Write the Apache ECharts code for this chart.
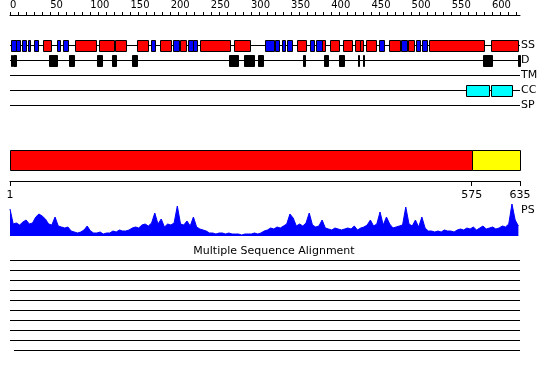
<!DOCTYPE html>
<html><head><meta charset="utf-8">
<script src="https://cdn.jsdelivr.net/npm/echarts@6/dist/echarts.min.js"></script>
<style>html,body{margin:0;padding:0;background:#fff}#c{width:550px;height:380px}</style>
</head><body><div id="c"></div>
<script>
// ---- data ----
const seqLength = 635;
const trackNames = ['SS', 'D', 'TM', 'CC', 'SP'];
// secondary structure: helices (red) and strands (blue), [start, end]
const helixSegments = [[41,51],[81,107],[111,129],[131,145],[158,172],[187,201],[212,219],[237,274],[279,299],[357,368],[389,392],[399,410],[414,426],[430,436],[436,440],[443,456],[472,485],[496,503],[522,590],[599,632]];
const strandSegments = [[1,7],[8,12],[15,20],[23,25],[30,35],[58,62],[66,72],[176,180],[203,210],[222,228],[228,233],[317,329],[330,335],[339,342],[345,351],[374,378],[381,388],[460,466],[487,494],[505,510],[513,519]];
// disorder
const disorderSegments = [[1,3],[4,7],[49,58],[74,80],[108,114],[127,132],[152,158],[273,284],[291,304],[309,315],[365,367],[391,396],[410,416],[433,435],[439,441],[589,600],[632,635]];
// coiled coil
const coiledCoilSegments = [[568,596],[599,625]];
const tmSegments = [];
const spSegments = [];
// domains
const domainStarts = [1, 575];
const domainEnds = [575, 635];
const domainBoundaries = [1, 575, 635];
// PS profile (one value per 4 residues, starting at residue 1)
const profileStep = 4;
const profileValues = [
 27,12,13,11,14,16,12,13,19,22,
 20,17,12,11,19,10,9,8,9,5,
 4,3,4,6,10,5,3,3,4,2,
 3,3,5,4,6,5,5,6,8,9,
 8,11,12,10,13,23,12,17,9,12,
 11,13,30,12,11,15,10,19,9,7,
 6,5,3,3,2,3,3,2,3,2,
 2,2,1,2,2,2,3,2,3,5,
 6,8,7,9,8,10,12,22,18,10,
 12,10,13,23,11,9,10,16,8,7,
 6,8,7,6,7,8,7,10,6,8,
 9,11,16,10,12,24,11,19,12,8,
 9,10,11,29,12,10,16,9,19,8,
 5,5,4,5,4,6,5,5,4,6,
 7,6,8,7,9,6,8,10,7,8,
 9,7,8,10,9,12,32,16,10
];
// multiple sequence alignment rows
const alignStarts = [1,1,1,1,1,1,1,1,1,6];
const alignEnds = [635,635,635,635,635,635,635,635,635,635];
const alignTitle = 'Multiple Sequence Alignment';

// ---- chart ----
const FONT = 'DejaVu Sans';
const chart = echarts.init(document.getElementById('c'), null, {renderer: 'canvas'});

function segData(list, row) { return list.map(s => [s[0], s[1], row]); }

function boxRender(params, api) {
  const s = api.value(0), e = api.value(1), row = api.value(2);
  const p0 = api.coord([s, row]), p1 = api.coord([e, row]);
  const h = Math.round(api.size([0, 0.7])[1]);
  const x0 = Math.round(p0[0]), x1 = Math.round(p1[0]);
  return {
    type: 'rect',
    shape: {x: x0 + 0.5, y: Math.round(p0[1] - h / 2) + 0.5, width: Math.max(1, x1 - x0), height: h},
    style: {fill: api.visual('color'), stroke: '#000', lineWidth: 1}
  };
}

function trackRender(params, api) {
  const row = api.value(0);
  const a = api.coord([0, row]), b = api.coord([seqLength, row]);
  const y = Math.round(a[1]) + 0.5;
  return {
    type: 'group',
    children: [
      {type: 'line', shape: {x1: a[0], y1: y, x2: b[0], y2: y}, style: {stroke: '#000', lineWidth: 1}},
      {type: 'text', x: b[0] + 1, y: y, style: {text: trackNames[row], fill: '#000', font: '11px ' + FONT, textVerticalAlign: 'middle', textAlign: 'left'}}
    ]
  };
}

const domainColors = ['#ff0000', '#ffff00'];
function domainRender(params, api) {
  const i = params.dataIndex;
  const p0 = api.coord([api.value(0), 0]), p1 = api.coord([api.value(1), 20]);
  const x0 = Math.round(p0[0]), x1 = Math.round(p1[0]);
  return {
    type: 'rect',
    shape: {x: x0 + 0.5, y: Math.round(p0[1]) + 0.5, width: x1 - x0, height: Math.round(p1[1] - p0[1])},
    style: {fill: domainColors[i], stroke: '#000', lineWidth: 1}
  };
}

function alignRender(params, api) {
  const row = api.value(2);
  const a = api.coord([api.value(0), row]), b = api.coord([api.value(1), row]);
  const y = Math.round(a[1]) + 0.5;
  return {type: 'line', shape: {x1: a[0], y1: y, x2: b[0], y2: y}, style: {stroke: '#000', lineWidth: 1}};
}

const profileData = profileValues.map((v, i) => [1 + i * profileStep, v]);

const option = {
  animation: false,
  backgroundColor: '#fff',
  grid: [
    {left: 10, width: 510, top: 15, height: 105},
    {left: 10, width: 510, top: 150, height: 31},
    {left: 10, width: 510, top: 200, height: 36},
    {left: 10, width: 510, top: 260, height: 90}
  ],
  xAxis: [
    {gridIndex: 0, type: 'value', position: 'top', min: 0, max: seqLength, interval: 10,
     splitLine: {show: false},
     axisLine: {show: true, onZero: false, lineStyle: {color: '#000', width: 1}},
     axisTick: {show: true, length: 3, lineStyle: {color: '#000'}},
     axisLabel: {show: true, margin: 5, fontSize: 10, fontFamily: FONT, color: '#000',
       align: 'left', showMaxLabel: false, hideOverlap: false,
       formatter: v => (v % 50 === 0 ? String(v) : '')}},
    {gridIndex: 1, type: 'value', position: 'bottom', min: 1, max: seqLength,
     splitLine: {show: false},
     axisLine: {show: true, onZero: false, lineStyle: {color: '#000', width: 1}},
     axisTick: {show: true, length: 5, lineStyle: {color: '#000'}, customValues: domainBoundaries},
     axisLabel: {show: true, margin: 9, fontSize: 11, fontFamily: FONT, color: '#000', customValues: domainBoundaries}},
    {gridIndex: 2, type: 'value', min: 1, max: seqLength, show: false},
    {gridIndex: 3, type: 'value', min: 1, max: seqLength, show: false}
  ],
  yAxis: [
    {gridIndex: 0, type: 'value', min: -2, max: 5, inverse: true, show: false},
    {gridIndex: 1, type: 'value', min: 0, max: 31, inverse: true, show: false},
    {gridIndex: 2, type: 'value', min: 0, max: 36, show: false},
    {gridIndex: 3, type: 'value', min: 0, max: 9, inverse: true, show: false}
  ],
  graphic: [
    {type: 'text', left: 521, top: 205, style: {text: 'PS', font: '11px ' + FONT, fill: '#000'}},
    {type: 'text', x: 274, y: 251, style: {text: alignTitle, font: '11px ' + FONT, fill: '#000', textAlign: 'center', textVerticalAlign: 'middle'}}
  ],
  series: [
    {type: 'custom', xAxisIndex: 0, yAxisIndex: 0, z: 1, renderItem: trackRender,
     data: trackNames.map((n, i) => [i]), encode: {y: 0}, clip: false},
    {type: 'custom', name: 'helix', xAxisIndex: 0, yAxisIndex: 0, z: 3, color: '#ff0000', renderItem: boxRender,
     data: segData(helixSegments, 0), encode: {x: [0, 1], y: 2}},
    {type: 'custom', name: 'strand', xAxisIndex: 0, yAxisIndex: 0, z: 3, color: '#0000ff', renderItem: boxRender,
     data: segData(strandSegments, 0), encode: {x: [0, 1], y: 2}},
    {type: 'custom', name: 'disorder', xAxisIndex: 0, yAxisIndex: 0, z: 3, color: '#000000', renderItem: boxRender,
     data: segData(disorderSegments, 1), encode: {x: [0, 1], y: 2}},
    {type: 'custom', name: 'tm', xAxisIndex: 0, yAxisIndex: 0, z: 3, color: '#00ff00', renderItem: boxRender,
     data: segData(tmSegments, 2), encode: {x: [0, 1], y: 2}},
    {type: 'custom', name: 'cc', xAxisIndex: 0, yAxisIndex: 0, z: 3, color: '#00ffff', renderItem: boxRender,
     data: segData(coiledCoilSegments, 3), encode: {x: [0, 1], y: 2}},
    {type: 'custom', name: 'sp', xAxisIndex: 0, yAxisIndex: 0, z: 3, color: '#ff00ff', renderItem: boxRender,
     data: segData(spSegments, 4), encode: {x: [0, 1], y: 2}},
    {type: 'custom', name: 'domains', xAxisIndex: 1, yAxisIndex: 1, renderItem: domainRender,
     data: domainStarts.map((s, i) => [s, domainEnds[i]]), encode: {x: [0, 1]}},
    {type: 'line', name: 'PS', xAxisIndex: 2, yAxisIndex: 2, data: profileData, showSymbol: false, symbol: 'none',
     sampling: null, lineStyle: {color: '#0000ff', width: 1}, areaStyle: {color: '#0000ff', opacity: 1}},
    {type: 'custom', name: 'alignment', xAxisIndex: 3, yAxisIndex: 3, renderItem: alignRender,
     data: alignStarts.map((s, i) => [s, alignEnds[i], i]), encode: {x: [0, 1], y: 2}}
  ]
};
chart.setOption(option);
</script>
</body></html>
